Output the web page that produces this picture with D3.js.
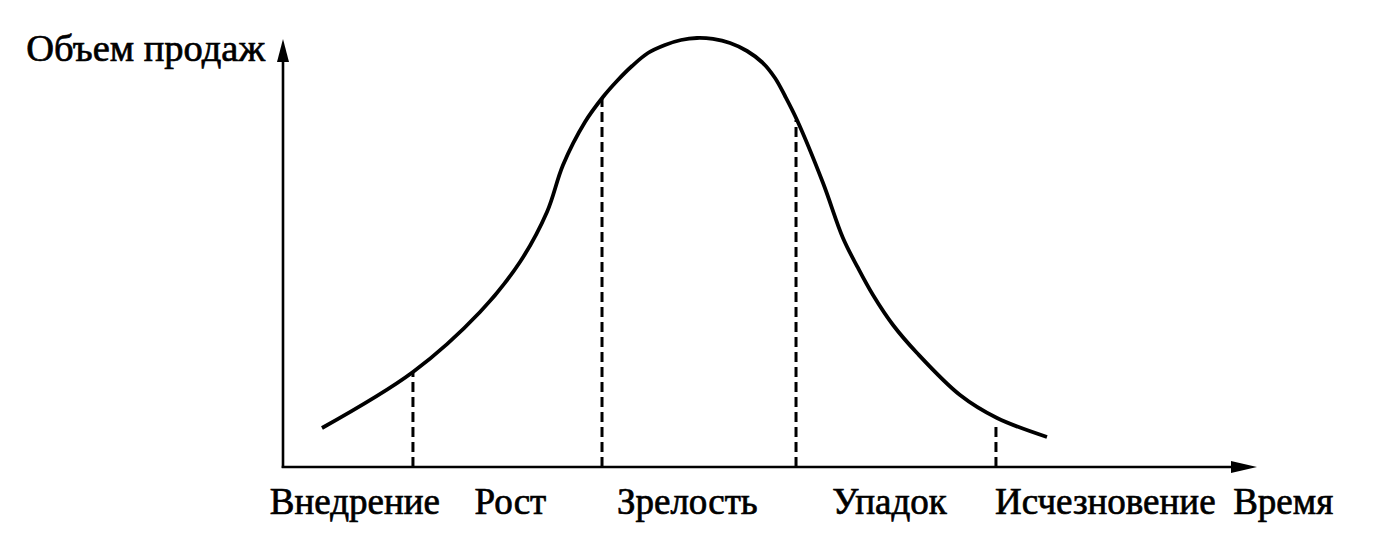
<!DOCTYPE html>
<html>
<head>
<meta charset="utf-8">
<script src="https://cdn.jsdelivr.net/npm/d3@7"></script>
<style>
  html, body { margin: 0; padding: 0; background: #fff; }
  svg { display: block; }
</style>
</head>
<body>
<svg id="chart" width="1398" height="550"></svg>
<script>
// ---- data (time in arbitrary units 0..100, sales in arbitrary units 0..100) ----
const curveTime  = [4.01, 13.37, 20.27, 24.38, 27.16, 28.81, 31.07, 32.92, 34.36, 35.91, 37.55, 39.30, 40.95, 42.59, 44.24, 45.99, 47.74, 49.38, 50.62, 51.65, 52.88, 55.56, 57.61, 59.16, 60.70, 62.76, 65.23, 69.65, 73.46, 78.60];
const curveSales = [9.09, 22.14, 36.13, 47.79, 59.44, 70.40, 80.42, 86.25, 89.98, 93.47, 96.50, 98.37, 99.53, 100.0, 99.77, 98.83, 96.97, 94.17, 90.68, 86.48, 80.89, 66.20, 53.38, 46.39, 40.09, 33.10, 26.57, 16.78, 11.42, 6.99];
const phases = ["Внедрение", "Рост", "Зрелость", "Упадок", "Исчезновение"];
const phaseLabelTime = [7.4, 23.4, 41.6, 62.4, 84.6];
const phaseBoundaryTime = [13.37, 32.82, 52.78, 73.35];
const phaseBoundarySales = [22.1, 85.8, 80.9, 9.3];
const yAxisTitle = "Объем продаж";
const xAxisTitle = "Время";

const FONT = "'Liberation Serif', 'DejaVu Serif'";
const svg = d3.select("#chart");
const x0 = 283, y0 = 467;
const x = d3.scaleLinear().domain([0, 100]).range([x0, 1255]);
const y = d3.scaleLinear().domain([0, 100]).range([y0, 38]);

// axes
svg.append("line").attr("x1", x0).attr("y1", y0 + 1).attr("x2", x0).attr("y2", 60)
  .attr("stroke", "#000").attr("stroke-width", 2.6);
svg.append("path").attr("d", `M${x0},${y(100) + 1} L${x0 - 6},${y(100) + 24} L${x0 + 6},${y(100) + 24} Z`)
  .attr("fill", "#000");
svg.append("line").attr("x1", x0 - 1.3).attr("y1", y0).attr("x2", x(100) - 20).attr("y2", y0)
  .attr("stroke", "#000").attr("stroke-width", 2.6);
svg.append("path").attr("d", `M${x(100) + 2},${y0} L${x(100) - 24},${y0 - 6} L${x(100) - 24},${y0 + 6} Z`)
  .attr("fill", "#000");

// dashed phase boundaries
svg.selectAll("line.bound").data(phaseBoundaryTime).enter().append("line")
  .attr("class", "bound")
  .attr("x1", d => x(d)).attr("x2", d => x(d))
  .attr("y1", y0).attr("y2", (d, i) => y(phaseBoundarySales[i]))
  .attr("stroke", "#000").attr("stroke-width", 3)
  .attr("stroke-dasharray", "10,5");

// curve
const pts = curveTime.map((t, i) => [t, curveSales[i]]);
const line = d3.line().x(d => x(d[0])).y(d => y(d[1])).curve(d3.curveCatmullRom.alpha(0.5));
svg.append("path").datum(pts).attr("d", line)
  .attr("fill", "none").attr("stroke", "#000").attr("stroke-width", 3.8)
  .attr("stroke-linecap", "butt");

// labels
const fs = 37;
svg.selectAll("text.phase").data(phases).enter().append("text")
  .attr("class", "phase")
  .attr("x", (d, i) => x(phaseLabelTime[i])).attr("y", 514)
  .attr("text-anchor", "middle").attr("font-size", fs).attr("font-family", FONT)
  .attr("fill", "#000").attr("stroke", "#000").attr("stroke-width", 0.7)
  .text(d => d);
svg.append("text").attr("x", x(102.9)).attr("y", 514)
  .attr("text-anchor", "middle").attr("font-size", fs).attr("font-family", FONT)
  .attr("fill", "#000").attr("stroke", "#000").attr("stroke-width", 0.7)
  .text(xAxisTitle);
svg.append("text").attr("x", 265).attr("y", 61)
  .attr("text-anchor", "end").attr("font-size", 38.5).attr("font-family", FONT)
  .attr("fill", "#000").attr("stroke", "#000").attr("stroke-width", 0.7)
  .text(yAxisTitle);
</script>
</body>
</html>
